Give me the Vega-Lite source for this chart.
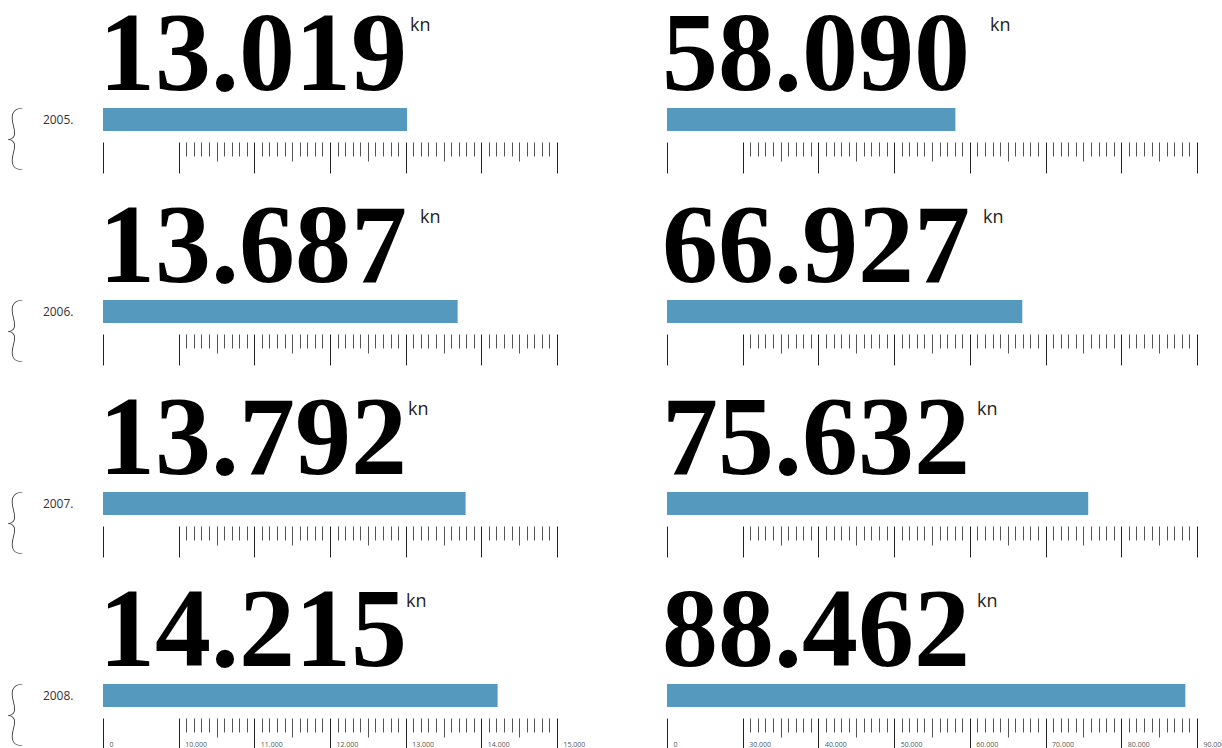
{
  "$schema": "https://vega.github.io/schema/vega-lite/v6.json",
  "padding": {"left": 4, "top": -1, "right": 0, "bottom": 0},
  "autosize": {"type": "pad"},
  "spacing": 192,
  "bounds": "flush",
  "config": {
    "view": {"stroke": null},
    "locale": {"number": {"decimal": ",", "thousands": ".", "grouping": [3], "currency": ["", ""]}}
  },
  "data": {"values": [
    {"year": "2005.", "a": 13019, "b": 58090},
    {"year": "2006.", "a": 13687, "b": 66927},
    {"year": "2007.", "a": 13792, "b": 75632},
    {"year": "2008.", "a": 14215, "b": 88462}
  ]},
  "vconcat": [
    {"hconcat": [
      {"width": 454, "height": 23, "transform": [{"filter": "datum.year === '2005.'"}],
       "encoding": {"y": {"field": "year", "type": "nominal", "scale": {"paddingInner": 0, "paddingOuter": 0}, "axis": {"title": null, "domain": false, "ticks": false, "labelPadding": 30, "labelFont": "Open Sans", "labelFontSize": 12, "labelColor": "#333"}}},
       "layer": [
        {"mark": {"type": "bar", "color": "#5599be"},
         "encoding": {"x": {"field": "a", "type": "quantitative", "scale": {"domain": [9000, 15000], "nice": false, "zero": false},
           "axis": {"title": null, "orient": "bottom", "offset": 11, "domain": false, "grid": false, "labels": false, "tickCount": 1000,
             "values": [9000,10000,10100,10200,10300,10400,10500,10600,10700,10800,10900,11000,11100,11200,11300,11400,11500,11600,11700,11800,11900,12000,12100,12200,12300,12400,12500,12600,12700,12800,12900,13000,13100,13200,13300,13400,13500,13600,13700,13800,13900,14000,14100,14200,14300,14400,14500,14600,14700,14800,14900,15000],
             "tickSize": {"condition": [{"test": "datum.value % 1000 === 0", "value": 31}, {"test": "datum.value % 500 === 0", "value": 19}], "value": 14},
             "tickColor": {"condition": {"test": "datum.value % 1000 === 0", "value": "#222"}, "value": "#555"}, "tickWidth": 1}},
          "x2": {"datum": 9000}}},
        {"mark": {"type": "text", "font": "Liberation Serif", "fontWeight": "bold", "fontSize": 112, "align": "left", "baseline": "alphabetic", "dx": -4, "dy": -30, "color": "#000"},
         "encoding": {"x": {"datum": 9000, "type": "quantitative"}, "text": {"field": "a", "type": "quantitative", "format": ",d"}}},
        {"mark": {"type": "text", "text": "kn", "font": "Open Sans", "fontSize": 18, "align": "left", "baseline": "alphabetic", "dx": 307, "dy": -89, "color": "#222"},
         "encoding": {"x": {"datum": 9000, "type": "quantitative"}}},
        {"mark": {"type": "text", "text": "{", "font": "Lato", "fontWeight": 200, "fontSize": 71, "align": "center", "baseline": "middle", "dx": -88, "dy": 20, "color": "#222"},
         "encoding": {"x": {"datum": 9000, "type": "quantitative"}}}
       ]},
      {"width": 530, "height": 23, "transform": [{"filter": "datum.year === '2005.'"}],
       "encoding": {"y": {"field": "year", "type": "nominal", "scale": {"paddingInner": 0, "paddingOuter": 0}, "axis": null}},
       "layer": [
        {"mark": {"type": "bar", "color": "#5599be"},
         "encoding": {"x": {"field": "b", "type": "quantitative", "scale": {"domain": [20000, 90000], "nice": false, "zero": false},
           "axis": {"title": null, "orient": "bottom", "offset": 11, "domain": false, "grid": false, "labels": false, "tickCount": 1000,
             "values": [20000,30000,31000,32000,33000,34000,35000,36000,37000,38000,39000,40000,41000,42000,43000,44000,45000,46000,47000,48000,49000,50000,51000,52000,53000,54000,55000,56000,57000,58000,59000,60000,61000,62000,63000,64000,65000,66000,67000,68000,69000,70000,71000,72000,73000,74000,75000,76000,77000,78000,79000,80000,81000,82000,83000,84000,85000,86000,87000,88000,89000,90000],
             "tickSize": {"condition": [{"test": "datum.value % 10000 === 0", "value": 31}, {"test": "datum.value % 5000 === 0", "value": 19}], "value": 14},
             "tickColor": {"condition": {"test": "datum.value % 10000 === 0", "value": "#222"}, "value": "#555"}, "tickWidth": 1}},
          "x2": {"datum": 20000}}},
        {"mark": {"type": "text", "font": "Liberation Serif", "fontWeight": "bold", "fontSize": 112, "align": "left", "baseline": "alphabetic", "dx": -5, "dy": -30, "color": "#000"},
         "encoding": {"x": {"datum": 20000, "type": "quantitative"}, "text": {"field": "b", "type": "quantitative", "format": ",d"}}},
        {"mark": {"type": "text", "text": "kn", "font": "Open Sans", "fontSize": 18, "align": "left", "baseline": "alphabetic", "dx": 323, "dy": -89, "color": "#222"},
         "encoding": {"x": {"datum": 20000, "type": "quantitative"}}}
       ]}
    ], "spacing": 110, "bounds": "flush"},
    {"hconcat": [
      {"width": 454, "height": 23, "transform": [{"filter": "datum.year === '2006.'"}],
       "encoding": {"y": {"field": "year", "type": "nominal", "scale": {"paddingInner": 0, "paddingOuter": 0}, "axis": {"title": null, "domain": false, "ticks": false, "labelPadding": 30, "labelFont": "Open Sans", "labelFontSize": 12, "labelColor": "#333"}}},
       "layer": [
        {"mark": {"type": "bar", "color": "#5599be"},
         "encoding": {"x": {"field": "a", "type": "quantitative", "scale": {"domain": [9000, 15000], "nice": false, "zero": false},
           "axis": {"title": null, "orient": "bottom", "offset": 11, "domain": false, "grid": false, "labels": false, "tickCount": 1000,
             "values": [9000,10000,10100,10200,10300,10400,10500,10600,10700,10800,10900,11000,11100,11200,11300,11400,11500,11600,11700,11800,11900,12000,12100,12200,12300,12400,12500,12600,12700,12800,12900,13000,13100,13200,13300,13400,13500,13600,13700,13800,13900,14000,14100,14200,14300,14400,14500,14600,14700,14800,14900,15000],
             "tickSize": {"condition": [{"test": "datum.value % 1000 === 0", "value": 31}, {"test": "datum.value % 500 === 0", "value": 19}], "value": 14},
             "tickColor": {"condition": {"test": "datum.value % 1000 === 0", "value": "#222"}, "value": "#555"}, "tickWidth": 1}},
          "x2": {"datum": 9000}}},
        {"mark": {"type": "text", "font": "Liberation Serif", "fontWeight": "bold", "fontSize": 112, "align": "left", "baseline": "alphabetic", "dx": -4, "dy": -30, "color": "#000"},
         "encoding": {"x": {"datum": 9000, "type": "quantitative"}, "text": {"field": "a", "type": "quantitative", "format": ",d"}}},
        {"mark": {"type": "text", "text": "kn", "font": "Open Sans", "fontSize": 18, "align": "left", "baseline": "alphabetic", "dx": 317, "dy": -89, "color": "#222"},
         "encoding": {"x": {"datum": 9000, "type": "quantitative"}}},
        {"mark": {"type": "text", "text": "{", "font": "Lato", "fontWeight": 200, "fontSize": 71, "align": "center", "baseline": "middle", "dx": -88, "dy": 20, "color": "#222"},
         "encoding": {"x": {"datum": 9000, "type": "quantitative"}}}
       ]},
      {"width": 530, "height": 23, "transform": [{"filter": "datum.year === '2006.'"}],
       "encoding": {"y": {"field": "year", "type": "nominal", "scale": {"paddingInner": 0, "paddingOuter": 0}, "axis": null}},
       "layer": [
        {"mark": {"type": "bar", "color": "#5599be"},
         "encoding": {"x": {"field": "b", "type": "quantitative", "scale": {"domain": [20000, 90000], "nice": false, "zero": false},
           "axis": {"title": null, "orient": "bottom", "offset": 11, "domain": false, "grid": false, "labels": false, "tickCount": 1000,
             "values": [20000,30000,31000,32000,33000,34000,35000,36000,37000,38000,39000,40000,41000,42000,43000,44000,45000,46000,47000,48000,49000,50000,51000,52000,53000,54000,55000,56000,57000,58000,59000,60000,61000,62000,63000,64000,65000,66000,67000,68000,69000,70000,71000,72000,73000,74000,75000,76000,77000,78000,79000,80000,81000,82000,83000,84000,85000,86000,87000,88000,89000,90000],
             "tickSize": {"condition": [{"test": "datum.value % 10000 === 0", "value": 31}, {"test": "datum.value % 5000 === 0", "value": 19}], "value": 14},
             "tickColor": {"condition": {"test": "datum.value % 10000 === 0", "value": "#222"}, "value": "#555"}, "tickWidth": 1}},
          "x2": {"datum": 20000}}},
        {"mark": {"type": "text", "font": "Liberation Serif", "fontWeight": "bold", "fontSize": 112, "align": "left", "baseline": "alphabetic", "dx": -5, "dy": -30, "color": "#000"},
         "encoding": {"x": {"datum": 20000, "type": "quantitative"}, "text": {"field": "b", "type": "quantitative", "format": ",d"}}},
        {"mark": {"type": "text", "text": "kn", "font": "Open Sans", "fontSize": 18, "align": "left", "baseline": "alphabetic", "dx": 316, "dy": -89, "color": "#222"},
         "encoding": {"x": {"datum": 20000, "type": "quantitative"}}}
       ]}
    ], "spacing": 110, "bounds": "flush"},
    {"hconcat": [
      {"width": 454, "height": 23, "transform": [{"filter": "datum.year === '2007.'"}],
       "encoding": {"y": {"field": "year", "type": "nominal", "scale": {"paddingInner": 0, "paddingOuter": 0}, "axis": {"title": null, "domain": false, "ticks": false, "labelPadding": 30, "labelFont": "Open Sans", "labelFontSize": 12, "labelColor": "#333"}}},
       "layer": [
        {"mark": {"type": "bar", "color": "#5599be"},
         "encoding": {"x": {"field": "a", "type": "quantitative", "scale": {"domain": [9000, 15000], "nice": false, "zero": false},
           "axis": {"title": null, "orient": "bottom", "offset": 11, "domain": false, "grid": false, "labels": false, "tickCount": 1000,
             "values": [9000,10000,10100,10200,10300,10400,10500,10600,10700,10800,10900,11000,11100,11200,11300,11400,11500,11600,11700,11800,11900,12000,12100,12200,12300,12400,12500,12600,12700,12800,12900,13000,13100,13200,13300,13400,13500,13600,13700,13800,13900,14000,14100,14200,14300,14400,14500,14600,14700,14800,14900,15000],
             "tickSize": {"condition": [{"test": "datum.value % 1000 === 0", "value": 31}, {"test": "datum.value % 500 === 0", "value": 19}], "value": 14},
             "tickColor": {"condition": {"test": "datum.value % 1000 === 0", "value": "#222"}, "value": "#555"}, "tickWidth": 1}},
          "x2": {"datum": 9000}}},
        {"mark": {"type": "text", "font": "Liberation Serif", "fontWeight": "bold", "fontSize": 112, "align": "left", "baseline": "alphabetic", "dx": -4, "dy": -30, "color": "#000"},
         "encoding": {"x": {"datum": 9000, "type": "quantitative"}, "text": {"field": "a", "type": "quantitative", "format": ",d"}}},
        {"mark": {"type": "text", "text": "kn", "font": "Open Sans", "fontSize": 18, "align": "left", "baseline": "alphabetic", "dx": 305, "dy": -89, "color": "#222"},
         "encoding": {"x": {"datum": 9000, "type": "quantitative"}}},
        {"mark": {"type": "text", "text": "{", "font": "Lato", "fontWeight": 200, "fontSize": 71, "align": "center", "baseline": "middle", "dx": -88, "dy": 20, "color": "#222"},
         "encoding": {"x": {"datum": 9000, "type": "quantitative"}}}
       ]},
      {"width": 530, "height": 23, "transform": [{"filter": "datum.year === '2007.'"}],
       "encoding": {"y": {"field": "year", "type": "nominal", "scale": {"paddingInner": 0, "paddingOuter": 0}, "axis": null}},
       "layer": [
        {"mark": {"type": "bar", "color": "#5599be"},
         "encoding": {"x": {"field": "b", "type": "quantitative", "scale": {"domain": [20000, 90000], "nice": false, "zero": false},
           "axis": {"title": null, "orient": "bottom", "offset": 11, "domain": false, "grid": false, "labels": false, "tickCount": 1000,
             "values": [20000,30000,31000,32000,33000,34000,35000,36000,37000,38000,39000,40000,41000,42000,43000,44000,45000,46000,47000,48000,49000,50000,51000,52000,53000,54000,55000,56000,57000,58000,59000,60000,61000,62000,63000,64000,65000,66000,67000,68000,69000,70000,71000,72000,73000,74000,75000,76000,77000,78000,79000,80000,81000,82000,83000,84000,85000,86000,87000,88000,89000,90000],
             "tickSize": {"condition": [{"test": "datum.value % 10000 === 0", "value": 31}, {"test": "datum.value % 5000 === 0", "value": 19}], "value": 14},
             "tickColor": {"condition": {"test": "datum.value % 10000 === 0", "value": "#222"}, "value": "#555"}, "tickWidth": 1}},
          "x2": {"datum": 20000}}},
        {"mark": {"type": "text", "font": "Liberation Serif", "fontWeight": "bold", "fontSize": 112, "align": "left", "baseline": "alphabetic", "dx": -5, "dy": -30, "color": "#000"},
         "encoding": {"x": {"datum": 20000, "type": "quantitative"}, "text": {"field": "b", "type": "quantitative", "format": ",d"}}},
        {"mark": {"type": "text", "text": "kn", "font": "Open Sans", "fontSize": 18, "align": "left", "baseline": "alphabetic", "dx": 310, "dy": -89, "color": "#222"},
         "encoding": {"x": {"datum": 20000, "type": "quantitative"}}}
       ]}
    ], "spacing": 110, "bounds": "flush"},
    {"hconcat": [
      {"width": 454, "height": 23, "transform": [{"filter": "datum.year === '2008.'"}],
       "encoding": {"y": {"field": "year", "type": "nominal", "scale": {"paddingInner": 0, "paddingOuter": 0}, "axis": {"title": null, "domain": false, "ticks": false, "labelPadding": 30, "labelFont": "Open Sans", "labelFontSize": 12, "labelColor": "#333"}}},
       "layer": [
        {"mark": {"type": "bar", "color": "#5599be"},
         "encoding": {"x": {"field": "a", "type": "quantitative", "scale": {"domain": [9000, 15000], "nice": false, "zero": false},
           "axis": {"title": null, "orient": "bottom", "offset": 11, "domain": false, "grid": false, "labels": true, "tickCount": 1000,
             "values": [9000,10000,10100,10200,10300,10400,10500,10600,10700,10800,10900,11000,11100,11200,11300,11400,11500,11600,11700,11800,11900,12000,12100,12200,12300,12400,12500,12600,12700,12800,12900,13000,13100,13200,13300,13400,13500,13600,13700,13800,13900,14000,14100,14200,14300,14400,14500,14600,14700,14800,14900,15000],
             "tickSize": {"condition": [{"test": "datum.value % 1000 === 0", "value": 31}, {"test": "datum.value % 500 === 0", "value": 19}], "value": 14},
             "tickColor": {"condition": {"test": "datum.value % 1000 === 0", "value": "#222"}, "value": "#555"}, "tickWidth": 1,
             "format": ",d",
             "labelExpr": "datum.value === 9000 ? '0' : (datum.value % 1000 === 0 ? datum.label : '')",
             "labelAlign": "left", "labelBaseline": "alphabetic", "labelPadding": -3, "labelOffset": 6,
             "labelFont": "Open Sans", "labelFontSize": 7, "labelColor": "#555", "labelOverlap": false, "labelBound": false, "labelFlush": false}},
          "x2": {"datum": 9000}}},
        {"mark": {"type": "text", "font": "Liberation Serif", "fontWeight": "bold", "fontSize": 112, "align": "left", "baseline": "alphabetic", "dx": -4, "dy": -30, "color": "#000"},
         "encoding": {"x": {"datum": 9000, "type": "quantitative"}, "text": {"field": "a", "type": "quantitative", "format": ",d"}}},
        {"mark": {"type": "text", "text": "kn", "font": "Open Sans", "fontSize": 18, "align": "left", "baseline": "alphabetic", "dx": 303, "dy": -89, "color": "#222"},
         "encoding": {"x": {"datum": 9000, "type": "quantitative"}}},
        {"mark": {"type": "text", "text": "{", "font": "Lato", "fontWeight": 200, "fontSize": 71, "align": "center", "baseline": "middle", "dx": -88, "dy": 20, "color": "#222"},
         "encoding": {"x": {"datum": 9000, "type": "quantitative"}}}
       ]},
      {"width": 530, "height": 23, "transform": [{"filter": "datum.year === '2008.'"}],
       "encoding": {"y": {"field": "year", "type": "nominal", "scale": {"paddingInner": 0, "paddingOuter": 0}, "axis": null}},
       "layer": [
        {"mark": {"type": "bar", "color": "#5599be"},
         "encoding": {"x": {"field": "b", "type": "quantitative", "scale": {"domain": [20000, 90000], "nice": false, "zero": false},
           "axis": {"title": null, "orient": "bottom", "offset": 11, "domain": false, "grid": false, "labels": true, "tickCount": 1000,
             "values": [20000,30000,31000,32000,33000,34000,35000,36000,37000,38000,39000,40000,41000,42000,43000,44000,45000,46000,47000,48000,49000,50000,51000,52000,53000,54000,55000,56000,57000,58000,59000,60000,61000,62000,63000,64000,65000,66000,67000,68000,69000,70000,71000,72000,73000,74000,75000,76000,77000,78000,79000,80000,81000,82000,83000,84000,85000,86000,87000,88000,89000,90000],
             "tickSize": {"condition": [{"test": "datum.value % 10000 === 0", "value": 31}, {"test": "datum.value % 5000 === 0", "value": 19}], "value": 14},
             "tickColor": {"condition": {"test": "datum.value % 10000 === 0", "value": "#222"}, "value": "#555"}, "tickWidth": 1,
             "format": ",d",
             "labelExpr": "datum.value === 20000 ? '0' : (datum.value % 10000 === 0 ? datum.label : '')",
             "labelAlign": "left", "labelBaseline": "alphabetic", "labelPadding": -3, "labelOffset": 6,
             "labelFont": "Open Sans", "labelFontSize": 7, "labelColor": "#555", "labelOverlap": false, "labelBound": false, "labelFlush": false}},
          "x2": {"datum": 20000}}},
        {"mark": {"type": "text", "font": "Liberation Serif", "fontWeight": "bold", "fontSize": 112, "align": "left", "baseline": "alphabetic", "dx": -5, "dy": -30, "color": "#000"},
         "encoding": {"x": {"datum": 20000, "type": "quantitative"}, "text": {"field": "b", "type": "quantitative", "format": ",d"}}},
        {"mark": {"type": "text", "text": "kn", "font": "Open Sans", "fontSize": 18, "align": "left", "baseline": "alphabetic", "dx": 310, "dy": -89, "color": "#222"},
         "encoding": {"x": {"datum": 20000, "type": "quantitative"}}}
       ]}
    ], "spacing": 110, "bounds": "flush"}
  ]
}
